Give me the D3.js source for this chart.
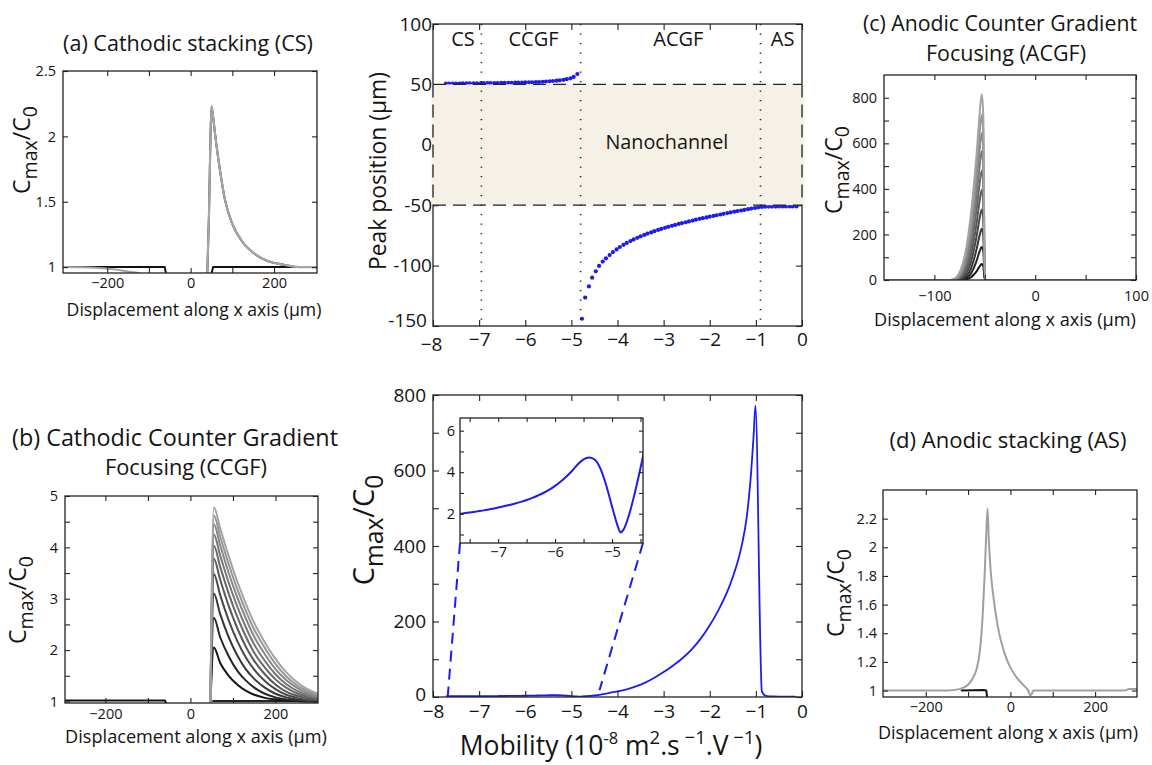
<!DOCTYPE html>
<html>
<head>
<meta charset="utf-8">
<script src="https://cdn.jsdelivr.net/npm/d3@7"></script>
<style>
  body { margin: 0; background: #fff; }
  svg { display: block; }
</style>
</head>
<body>
<svg id="fig" width="1152" height="765"></svg>
<script>
// ---------------- data ----------------

// Peak position vs. mobility: cathodic branch (above the nanochannel)
const upperMobility = [-7.72, -7.65, -7.57, -7.50, -7.42, -7.35, -7.27, -7.20, -7.12, -7.05, -6.97, -6.90, -6.82, -6.75,
  -6.67, -6.60, -6.52, -6.45, -6.37, -6.30, -6.22, -6.15, -6.07, -6.00, -5.92, -5.85, -5.77, -5.70, -5.62, -5.55,
  -5.47, -5.40, -5.32, -5.25, -5.17, -5.10, -5.02, -4.95, -4.87];
const upperPeak = [50.6, 50.6, 50.7, 50.7, 50.7, 50.8, 50.8, 50.8, 50.9, 50.9, 50.9, 51.0, 51.0, 51.0,
  51.1, 51.1, 51.2, 51.2, 51.3, 51.3, 51.4, 51.5, 51.5, 51.6, 51.7, 51.8, 51.9, 52.0, 52.2, 52.4,
  52.6, 52.8, 53.1, 53.4, 53.8, 54.3, 55.0, 56.2, 58.6];

// Peak position vs. mobility: anodic branch (below the nanochannel)
const lowerMobility = [-4.77, -4.70, -4.62, -4.55, -4.47, -4.40, -4.32, -4.25, -4.17, -4.10, -4.02, -3.95, -3.87, -3.80,
  -3.72, -3.65, -3.57, -3.50, -3.42, -3.35, -3.27, -3.20, -3.12, -3.05, -2.97, -2.90, -2.82, -2.75, -2.67, -2.60,
  -2.52, -2.45, -2.37, -2.30, -2.22, -2.15, -2.07, -2.00, -1.92, -1.85, -1.77, -1.70, -1.62, -1.55, -1.47, -1.40,
  -1.32, -1.25, -1.17, -1.10, -1.02, -0.95, -0.87, -0.80, -0.72, -0.65, -0.57, -0.50, -0.42, -0.35, -0.27, -0.20, -0.12];
const lowerPeak = [-144.0, -126.5, -117.2, -110.0, -104.7, -100.3, -96.7, -94.0, -91.3, -88.8, -86.6, -84.6, -82.8, -81.2,
  -79.7, -78.3, -77.0, -75.8, -74.6, -73.5, -72.5, -71.5, -70.5, -69.6, -68.7, -67.9, -67.1, -66.3, -65.5, -64.8,
  -64.1, -63.4, -62.7, -62.0, -61.3, -60.7, -60.1, -59.5, -58.9, -58.3, -57.7, -57.1, -56.5, -56.0, -55.4, -54.9,
  -54.4, -53.9, -53.3, -52.8, -52.3, -51.8, -51.4, -51.2, -51.1, -51.1, -51.1, -51.0, -51.0, -51.0, -51.0, -51.0, -51.0];

const regionNames = ["CS", "CCGF", "ACGF", "AS"];
const regionCentres = [-7.35, -5.82, -2.68, -0.42];
const regionBounds = [-6.95, -4.8, -0.9];
const channelEdges = [-50, 50];

// Maximum concentration vs. mobility
const cmaxMobility = [-7.7, -7.6, -7.5, -7.4, -7.3, -7.2, -7.1, -7.0, -6.9, -6.8, -6.7, -6.6, -6.5, -6.4, -6.3, -6.2,
  -6.1, -6.0, -5.9, -5.8, -5.7, -5.6, -5.5, -5.4, -5.3, -5.2, -5.1, -5.0, -4.9, -4.85, -4.8, -4.7, -4.6, -4.5, -4.4,
  -4.3, -4.2, -4.1, -4.0, -3.8, -3.6, -3.4, -3.2, -3.0, -2.8, -2.6, -2.4, -2.2, -2.0, -1.8, -1.6, -1.5, -1.4, -1.3,
  -1.2, -1.15, -1.1, -1.05, -1.01, -0.87, -0.8, -0.7, -0.6, -0.5, -0.4, -0.3, -0.15];
const cmaxValue = [1.98, 2.02, 2.06, 2.10, 2.14, 2.19, 2.24, 2.30, 2.36, 2.42, 2.49, 2.57, 2.66, 2.76, 2.88, 3.01,
  3.16, 3.34, 3.55, 3.79, 4.07, 4.38, 4.62, 4.71, 4.60, 4.15, 3.35, 2.35, 1.40, 1.10, 1.22, 1.95, 3.0, 4.2, 5.6,
  7.8, 10.3, 12.7, 15, 20.5, 28, 38, 51, 66, 83, 102, 125, 154, 190, 233, 285, 318, 356, 405,
  475, 530, 600, 690, 772, 15, 4, 1.8, 1.3, 1.1, 1.0, 1.0, 1.0];
// zoom window ends, in main-axis data units
const zoomFromX = [-7.68, -4.39];
const zoomFromY = [2, 18];

// (a) cathodic stacking profiles
const csLeftX = [-306, -250, -62, -59];
const csLeftY = [1.0, 1.0, 1.0, 0.95];
const csRightX = [50, 54, 303];
const csRightY = [0.95, 1.0, 1.0];
const csTailX = [-306, -230, -190, -160, -135, -120];
const csTailY = [1.0, 0.995, 0.985, 0.972, 0.96, 0.95];
const csPeakX = [40, 44, 47, 50, 55, 60, 70, 82, 100, 125, 150, 182, 220, 260, 303];
const csPeakY = [0.95, 1.4, 1.9, 2.23, 2.12, 1.98, 1.75, 1.52, 1.33, 1.19, 1.11, 1.05, 1.02, 1.0, 1.0];

// (b) cathodic counter-gradient focusing: profiles at successive times
const ccgfLeftX = [-295, -60, -57];
const ccgfLeftY = [1.02, 1.02, 0.96];
const ccgfRightX = [53, 300];
const ccgfRightY = [1.01, 1.01];
const ccgfX = [47, 55, 70, 90, 110, 130, 150, 175, 200, 225, 250, 275, 300];
const ccgfProfiles = [
  [0.96, 2.05, 1.75, 1.50, 1.33, 1.21, 1.13, 1.07, 1.04, 1.02, 1.01, 1.00, 1.00],
  [0.96, 2.63, 2.25, 1.88, 1.60, 1.41, 1.27, 1.15, 1.08, 1.04, 1.02, 1.01, 1.00],
  [0.96, 3.10, 2.70, 2.25, 1.90, 1.63, 1.44, 1.27, 1.15, 1.08, 1.04, 1.02, 1.01],
  [0.96, 3.48, 3.07, 2.58, 2.18, 1.86, 1.62, 1.40, 1.24, 1.13, 1.07, 1.03, 1.02],
  [0.96, 3.78, 3.37, 2.86, 2.43, 2.07, 1.79, 1.53, 1.33, 1.19, 1.11, 1.06, 1.03],
  [0.96, 4.03, 3.62, 3.10, 2.65, 2.27, 1.95, 1.66, 1.43, 1.27, 1.16, 1.09, 1.05],
  [0.96, 4.25, 3.84, 3.31, 2.85, 2.45, 2.11, 1.79, 1.53, 1.34, 1.21, 1.12, 1.07],
  [0.96, 4.45, 4.04, 3.50, 3.03, 2.62, 2.26, 1.92, 1.63, 1.42, 1.27, 1.16, 1.09],
  [0.96, 4.62, 4.21, 3.67, 3.19, 2.77, 2.40, 2.04, 1.73, 1.49, 1.32, 1.20, 1.12],
  [0.96, 4.78, 4.37, 3.83, 3.34, 2.91, 2.53, 2.15, 1.83, 1.57, 1.38, 1.24, 1.15]
];

// (c) anodic counter-gradient focusing: profiles at successive times
const acgfX = [-150, -84, -80, -76, -72, -68, -64, -61, -58, -55.5, -53, -51.5, -50, 100];
const acgfProfiles = [
  [0, 0, 0, 0, 1, 4, 11, 23, 39, 57, 70, 61, 0, 0],
  [0, 0, 0, 0, 3, 10, 27, 52, 86, 121, 145, 127, 0, 0],
  [0, 0, 0, 1, 6, 19, 48, 87, 138, 189, 225, 198, 0, 0],
  [0, 0, 0, 2, 11, 32, 75, 128, 195, 262, 310, 272, 0, 0],
  [0, 0, 0, 4, 17, 47, 104, 171, 254, 336, 395, 347, 0, 0],
  [0, 0, 1, 7, 25, 64, 136, 217, 314, 410, 480, 422, 0, 0],
  [0, 0, 2, 10, 34, 83, 169, 263, 375, 485, 565, 497, 0, 0],
  [0, 0, 3, 14, 44, 103, 203, 309, 434, 556, 645, 568, 0, 0],
  [0, 0, 4, 19, 56, 124, 238, 356, 492, 627, 725, 640, 0, 0],
  [0, 0, 6, 25, 70, 150, 280, 410, 560, 710, 815, 720, 0, 0]
];

// (d) anodic stacking profiles
const asGreyX = [-301, -150, -120, -100, -90, -80, -72, -66, -61, -57, -54, -51, -47, -40, -30, -15, 0, 15, 30, 42, 47, 51, 54, 150, 270, 280, 299];
const asGreyY = [1.0, 1.0, 1.01, 1.04, 1.08, 1.15, 1.28, 1.5, 1.8, 2.1, 2.27, 2.05, 1.85, 1.65, 1.45, 1.27, 1.16, 1.09, 1.04, 1.0, 0.965, 0.98, 1.0, 1.0, 1.0, 1.01, 1.01];
const asBlackX = [-115, -62, -57, -55];
const asBlackY = [1.0, 1.003, 1.0, 0.95];

// shades for the time series, earliest (dark) to latest (light)
const greyShades = ["#151515", "#262626", "#373737", "#484848", "#585858", "#686868", "#777777", "#868686", "#959595", "#a3a3a3"];

// ---------------- drawing ----------------
const FONT = "'Open Sans', Lato, sans-serif";
const BLUE = "#1c1cf2";
const INK = "#141414";
const svg = d3.select("#fig");
svg.append("rect").attr("width", 1152).attr("height", 765).attr("fill", "#fff");

let clipCount = 0;
function panel(box, xDomain, yDomain) {
  const x = d3.scaleLinear().domain(xDomain).range([box.l, box.r]);
  const y = d3.scaleLinear().domain(yDomain).range([box.b, box.t]);
  const id = "clip" + (clipCount++);
  svg.append("clipPath").attr("id", id).append("rect")
    .attr("x", box.l).attr("y", box.t).attr("width", box.r - box.l).attr("height", box.b - box.t);
  const g = svg.append("g");
  const plot = g.append("g").attr("clip-path", `url(#${id})`);
  return { x, y, g, plot, box };
}

function labeller(vals, labs) {
  return v => {
    const i = vals.findIndex(u => Math.abs(u - v) < 1e-9);
    return i < 0 ? "" : labs[i];
  };
}

function axes(p, cfg) {
  const { x, y, box } = p;
  const g = p.g.append("g");
  const style = sel => {
    sel.select(".domain").remove();
    sel.selectAll(".tick line").attr("stroke", "#222").attr("stroke-width", 1.1);
    sel.selectAll(".tick text").attr("fill", INK).attr("font-family", FONT).attr("font-size", cfg.font);
  };
  const bottom = g.append("g").attr("transform", `translate(0,${box.b})`)
    .call(d3.axisBottom(x).tickValues(cfg.xTicks).tickSize(-cfg.len).tickPadding(cfg.xPad)
      .tickFormat(labeller(cfg.xLabVals, cfg.xLabs))).call(style);
  g.append("g").attr("transform", `translate(0,${box.t})`)
    .call(d3.axisTop(x).tickValues(cfg.xTicks).tickSize(-cfg.len).tickFormat("")).call(style);
  const left = g.append("g").attr("transform", `translate(${box.l},0)`)
    .call(d3.axisLeft(y).tickValues(cfg.yTicks).tickSize(-cfg.len).tickPadding(cfg.yPad)
      .tickFormat(labeller(cfg.yLabVals, cfg.yLabs))).call(style);
  g.append("g").attr("transform", `translate(${box.r},0)`)
    .call(d3.axisRight(y).tickValues(cfg.yTicks).tickSize(-cfg.len).tickFormat("")).call(style);
  g.append("rect").attr("x", box.l).attr("y", box.t)
    .attr("width", box.r - box.l).attr("height", box.b - box.t)
    .attr("fill", "none").attr("stroke", "#222").attr("stroke-width", 1.3);
  return { bottom, left };
}

function curve(p, xs, ys, color, width, interp) {
  const gen = d3.line().x(d => p.x(d[0])).y(d => p.y(d[1])).curve(interp || d3.curveMonotoneX);
  p.plot.append("path").datum(d3.zip(xs, ys)).attr("d", gen)
    .attr("fill", "none").attr("stroke", color).attr("stroke-width", width)
    .attr("stroke-linejoin", "round").attr("stroke-linecap", "round");
}

// scale a text's font so its natural width equals the given width
function fit(t, size, width) {
  t.attr("font-size", size);
  const w = t.node().getComputedTextLength();
  const s = w > 0 ? size * width / w : size;
  t.attr("font-size", s);
  return s;
}

function text(x, y, str, size, len) {
  const t = svg.append("text").attr("x", x)
    .attr("text-anchor", "middle").attr("font-family", FONT)
    .attr("fill", INK).text(str);
  const s = len ? fit(t, size, len) : (t.attr("font-size", size), size);
  t.attr("y", y + 0.35 * s);
  return t;
}

// rotated "C_max / C_0" axis title
function ratioLabel(cx, cy, size) {
  const t = svg.append("text")
    .attr("transform", `translate(${cx + 0.35 * size},${cy}) rotate(-90)`)
    .attr("text-anchor", "middle").attr("font-family", FONT).attr("font-size", size).attr("fill", INK);
  const sub = 0.3 * size;
  t.append("tspan").text("C");
  t.append("tspan").attr("dy", sub).attr("font-size", size * 0.85).text("max");
  t.append("tspan").attr("dy", -sub).text("/C");
  t.append("tspan").attr("dy", sub).attr("font-size", size * 0.85).text("0");
}

// nudge one tick label of an axis group
function nudge(axisSel, label, dx, dy) {
  axisSel.selectAll(".tick text").filter(function () { return this.textContent === label; })
    .attr("transform", `translate(${dx},${dy})`);
}

const dispTicks = [-200, -100, 0, 100, 200];
const dispLabVals = [-200, 0, 200];
const dispLabs = ["\u2212200", "0", "200"];
const dispTitle = "Displacement along x axis (\u03bcm)";

// ---- (a) Cathodic stacking ----
{
  const p = panel({ l: 63, r: 317, t: 71, b: 273 }, [-306, 303], [0.955, 2.5]);
  curve(p, csLeftX, csLeftY, "#111", 2, d3.curveLinear);
  curve(p, csRightX, csRightY, "#111", 2, d3.curveLinear);
  curve(p, csPeakX, csPeakY, "#111", 2);
  curve(p, csTailX, csTailY, "#a6a6a6", 2);
  curve(p, csPeakX, csPeakY, "#a6a6a6", 2.2);
  axes(p, {
    xTicks: dispTicks, xLabVals: dispLabVals, xLabs: dispLabs,
    yTicks: [1, 1.5, 2, 2.5], yLabVals: [1, 1.5, 2, 2.5], yLabs: ["1", "1.5", "2", "2.5"],
    font: 14.5, len: 5, xPad: 5, yPad: 7
  });
  text(188, 43, "(a) Cathodic stacking (CS)", 23, 250);
  ratioLabel(22, 150, 23);
  text(194, 310, dispTitle, 20, 255);
}

// ---- (b) Cathodic counter gradient focusing ----
{
  const p = panel({ l: 65, r: 318, t: 496, b: 703 }, [-295, 300], [0.97, 5]);
  curve(p, ccgfLeftX, ccgfLeftY, "#111", 2, d3.curveLinear);
  curve(p, ccgfRightX, ccgfRightY, "#222", 2, d3.curveLinear);
  ccgfProfiles.forEach((ys, i) => curve(p, ccgfX, ys, greyShades[i], 2));
  axes(p, {
    xTicks: dispTicks, xLabVals: dispLabVals, xLabs: dispLabs,
    yTicks: [1, 1.5, 2, 2.5, 3, 3.5, 4, 4.5, 5], yLabVals: [1, 2, 3, 4, 5], yLabs: ["1", "2", "3", "4", "5"],
    font: 14.5, len: 5, xPad: 6, yPad: 7
  });
  text(175, 438, "(b) Cathodic Counter Gradient", 23, 326);
  text(186, 467, "Focusing (CCGF)", 23, 162);
  ratioLabel(18, 600, 23);
  text(196, 737, dispTitle, 20, 262);
}

// ---- (c) Anodic counter gradient focusing ----
{
  const p = panel({ l: 884, r: 1136, t: 75, b: 280 }, [-150, 100], [0, 900]);
  acgfProfiles.forEach((ys, i) => curve(p, acgfX, ys, greyShades[i], 2));
  axes(p, {
    xTicks: [-100, -50, 0, 50, 100], xLabVals: [-100, 0, 100], xLabs: ["\u2212100", "0", "100"],
    yTicks: [0, 100, 200, 300, 400, 500, 600, 700, 800], yLabVals: [0, 200, 400, 600, 800],
    yLabs: ["0", "200", "400", "600", "800"],
    font: 14.5, len: 5, xPad: 11, yPad: 7
  });
  text(1000, 24, "(c) Anodic Counter Gradient", 23, 274);
  text(1006, 53, "Focusing (ACGF)", 23, 160);
  ratioLabel(834, 170, 23);
  text(1005, 320, dispTitle, 20, 262);
}

// ---- (d) Anodic stacking ----
{
  const p = panel({ l: 883, r: 1137, t: 490, b: 697 }, [-301, 299], [0.955, 2.4]);
  curve(p, asBlackX, asBlackY, "#111", 2, d3.curveLinear);
  curve(p, asGreyX, asGreyY, "#a0a0a0", 2);
  const yt = [1, 1.2, 1.4, 1.6, 1.8, 2, 2.2];
  axes(p, {
    xTicks: dispTicks, xLabVals: dispLabVals, xLabs: dispLabs,
    yTicks: yt, yLabVals: yt, yLabs: ["1", "1.2", "1.4", "1.6", "1.8", "2", "2.2"],
    font: 14.5, len: 5, xPad: 5, yPad: 6
  });
  text(1008, 440, "(d) Anodic stacking (AS)", 23, 237);
  ratioLabel(836, 593, 23);
  text(1008, 733, dispTitle, 20, 260);
}

const mobTicks = [-8, -7, -6, -5, -4, -3, -2, -1, 0];
const mobLabs = ["\u22128", "\u22127", "\u22126", "\u22125", "\u22124", "\u22123", "\u22122", "\u22121", "0"];

// ---- peak position vs mobility ----
{
  const p = panel({ l: 433, r: 802, t: 24, b: 326 }, [-8, 0], [-150, 100]);
  const yt = [-150, -100, -50, 0, 50, 100];
  const ax = axes(p, {
    xTicks: mobTicks, xLabVals: mobTicks, xLabs: mobLabs,
    yTicks: yt, yLabVals: yt, yLabs: ["-150", "-100", "-50", "0", "50", "100"],
    font: 19, len: 6, xPad: 6, yPad: 1
  });
  nudge(ax.bottom, "\u22128", -2, 5);
  nudge(ax.left, "-150", -5, -6);
  const top = p.y(channelEdges[1]), bot = p.y(channelEdges[0]);
  const xl = p.x(-8), xr = p.x(0);
  // nanochannel band
  p.g.append("rect").attr("x", xl - 1.5).attr("y", top).attr("width", xr - xl + 4).attr("height", bot - top)
    .attr("fill", "#f6f1e6");
  const dash = (x1, y1, x2, y2) => p.g.append("line").attr("x1", x1).attr("y1", y1).attr("x2", x2).attr("y2", y2)
    .attr("stroke", "#222").attr("stroke-width", 1.3).attr("stroke-dasharray", "13 7");
  dash(xl, top, xr, top);
  dash(xl, bot, xr, bot);
  dash(xl, top, xl, bot);
  dash(xr, top, xr, bot);
  regionBounds.forEach(b => {
    p.g.append("line").attr("x1", p.x(b)).attr("x2", p.x(b)).attr("y1", p.box.t).attr("y2", p.box.b)
      .attr("stroke", "#222").attr("stroke-width", 1.6).attr("stroke-dasharray", "1.3 8.2");
  });
  regionNames.forEach((n, i) => text(p.x(regionCentres[i]), 39, n, 20));
  text(p.x(-2.93), 142, "Nanochannel", 22, 123);
  p.plot.selectAll(".up").data(d3.zip(upperMobility, upperPeak)).join("circle")
    .attr("cx", d => p.x(d[0])).attr("cy", d => p.y(d[1])).attr("r", 2.1).attr("fill", BLUE);
  p.plot.selectAll(".lo").data(d3.zip(lowerMobility, lowerPeak)).join("circle")
    .attr("cx", d => p.x(d[0])).attr("cy", d => p.y(d[1])).attr("r", 2.1).attr("fill", BLUE);
  const yl = svg.append("text")
    .attr("text-anchor", "middle").attr("font-family", FONT).attr("fill", INK)
    .text("Peak position (\u03bcm)");
  const s = fit(yl, 25, 198);
  yl.attr("transform", `translate(${378 + 0.35 * s},171) rotate(-90)`);
}

// ---- maximum concentration vs mobility, with inset ----
{
  const p = panel({ l: 433, r: 802, t: 395, b: 697 }, [-8, 0], [0, 800]);
  curve(p, cmaxMobility, cmaxValue, BLUE, 1.8);
  const ax = axes(p, {
    xTicks: mobTicks, xLabVals: mobTicks, xLabs: mobLabs,
    yTicks: [0, 100, 200, 300, 400, 500, 600, 700, 800], yLabVals: [0, 200, 400, 600, 800],
    yLabs: ["0", "200", "400", "600", "800"],
    font: 19, len: 6, xPad: 8, yPad: 7
  });
  nudge(ax.left, "0", 0, -3);

  const ib = { l: 460, r: 643, t: 418, b: 543 };
  // connectors from the zoomed range to the inset corners
  [[ib.l, 0], [ib.r, 1]].forEach(([ix, k]) => {
    svg.append("line").attr("x1", ix).attr("y1", ib.b)
      .attr("x2", p.x(zoomFromX[k])).attr("y2", p.y(zoomFromY[k]))
      .attr("stroke", BLUE).attr("stroke-width", 2).attr("stroke-dasharray", "11 7");
  });
  svg.append("rect").attr("x", ib.l).attr("y", ib.t).attr("width", ib.r - ib.l).attr("height", ib.b - ib.t)
    .attr("fill", "#fff");
  const q = panel(ib, [-7.67, -4.456], [0.59, 6.61]);
  curve(q, cmaxMobility, cmaxValue, BLUE, 2);
  axes(q, {
    xTicks: [-7.5, -7, -6.5, -6, -5.5, -5, -4.5], xLabVals: [-7, -6, -5], xLabs: ["\u22127", "\u22126", "\u22125"],
    yTicks: [1, 2, 3, 4, 5, 6], yLabVals: [2, 4, 6], yLabs: ["2", "4", "6"],
    font: 14.5, len: 4, xPad: 4, yPad: 5
  });

  ratioLabel(364, 530, 29);

  const fs = 26.5;
  const xt = svg.append("text").attr("x", 611).attr("y", 746 + 0.35 * fs)
    .attr("text-anchor", "middle").attr("font-family", FONT).attr("font-size", fs).attr("fill", INK);
  const up = 0.42 * fs;
  xt.append("tspan").text("Mobility (10");
  xt.append("tspan").attr("dy", -up).attr("font-size", fs * 0.62).text("-8");
  xt.append("tspan").attr("dy", up).text(" m");
  xt.append("tspan").attr("dy", -up).attr("font-size", fs * 0.7).text("2");
  xt.append("tspan").attr("dy", up).text(".s");
  xt.append("tspan").attr("dy", -up).attr("font-size", fs * 0.7).text(" \u22121");
  xt.append("tspan").attr("dy", up).text(".V");
  xt.append("tspan").attr("dy", -up).attr("font-size", fs * 0.7).text(" \u22121");
  xt.append("tspan").attr("dy", up).text(")");
}
</script>
</body>
</html>
